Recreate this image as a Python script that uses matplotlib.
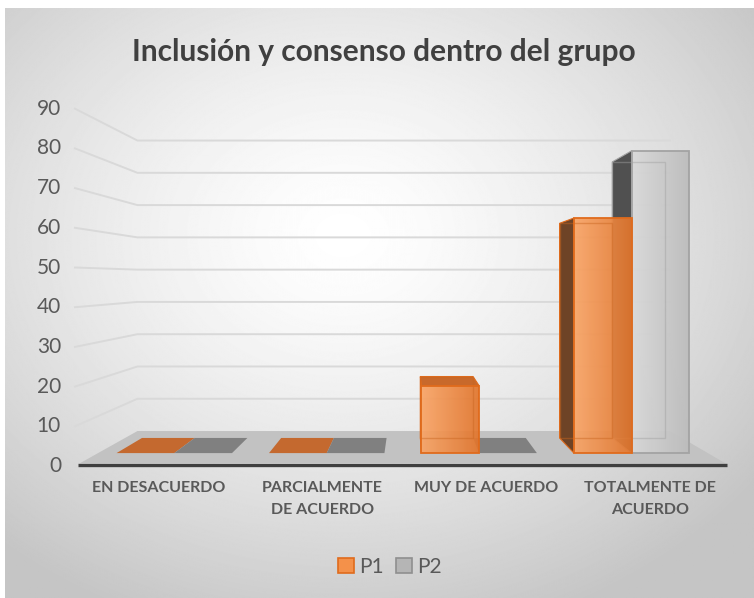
import numpy as np
import matplotlib.pyplot as plt
from matplotlib.patches import Polygon, Patch
from matplotlib.colors import LinearSegmentedColormap

# data
categories = ['EN DESACUERDO', 'PARCIALMENTE\nDE ACUERDO', 'MUY DE ACUERDO', 'TOTALMENTE DE\nACUERDO']
series_names = ['P1', 'P2']
p1 = [0, 0, 18.2, 63.6]
p2 = [0, 0, 0, 81.8]
yticks = list(range(0, 100, 10))

plt.rcParams['font.family'] = ['Lato', 'DejaVu Sans']

W, H = 754, 598
fig = plt.figure(figsize=(W / 100, H / 100), dpi=100)
ax = fig.add_axes([0, 0, 1, 1])
ax.set_xlim(0, W)
ax.set_ylim(H, 0)
ax.axis('off')

# simple perspective: vanishing point, front plane scale, depth factors
xv, yv = 409, 279
y0, ky = 466, 3.97
x_left, x_right = 75, 730
m_back, m_front = 0.813, 0.985
bar_mb, bar_mf = 0.85, 0.931
cw = (x_right - x_left) / len(categories)
bw = 62


def proj(X, v, m):
    Y = y0 - ky * v
    return xv + (X - xv) * m, yv + (Y - yv) * m


# background with soft radial shading
gx, gy = np.meshgrid(np.arange(W), np.arange(H))
r = np.sqrt(((gx - 340) / 520) ** 2 + ((gy - 230) / 420) ** 2)
shade = 1 - 0.23 * np.clip(r, 0, 1) ** 1.4
ax.imshow(shade, cmap='gray', vmin=0, vmax=1, extent=(5, W, H, 8),
          aspect='auto', zorder=0, interpolation='bilinear')

# gridlines on the side and back walls
for v in yticks[1:]:
    a = proj(x_left, v, 1.0)
    b = proj(x_left, v, m_back)
    c = proj(x_right, v, m_back)
    ax.plot([a[0], b[0], c[0]], [a[1], b[1], c[1]], color='#d9d9d9', lw=1.4, zorder=1)

# floor
floor = [proj(x_left, 0, m_back), proj(x_right, 0, m_back),
         proj(x_right, 0, m_front), proj(x_left, 0, m_front)]
ax.add_patch(Polygon(floor, closed=True, fc='#c2c2c2', ec='none', zorder=2))
fa, fb = proj(x_left, 0, 0.992), proj(x_right, 0, 0.992)
ax.plot([fa[0], fb[0]], [fa[1], fb[1]], color='#3f3f3f', lw=2.4, zorder=2,
        solid_capstyle='butt')

styles = {
    'P1': dict(light='#f9a465', dark='#e2752c', edge='#e06b1c', side='#6e4326',
               top='#c8692b', flat='#c4692f', back='#c9651f'),
    'P2': dict(light='#d8d8d8', dark='#bcbcbc', edge='#a3a3a3', side='#505050',
               top='#9c9c9c', flat='#808080', back='#a0a0a0'),
}


def draw_bar(X0, X1, v, st, z):
    if v == 0:
        pts = [proj(X0, 0, bar_mb), proj(X1, 0, bar_mb),
               proj(X1, 0, bar_mf), proj(X0, 0, bar_mf)]
        ax.add_patch(Polygon(pts, closed=True, fc=st['flat'], ec='none', zorder=z))
        return
    back = [proj(X0, 0, bar_mb), proj(X1, 0, bar_mb), proj(X1, v, bar_mb), proj(X0, v, bar_mb)]
    front = [proj(X0, 0, bar_mf), proj(X1, 0, bar_mf), proj(X1, v, bar_mf), proj(X0, v, bar_mf)]
    top = [back[3], back[2], front[2], front[3]]
    if X0 > xv:
        side = [back[0], front[0], front[3], back[3]]
        ax.add_patch(Polygon(side, closed=True, fc=st['side'], ec=st['edge'],
                             lw=0.8, zorder=z + 0.1))
    elif X1 < xv:
        side = [back[1], front[1], front[2], back[2]]
        ax.add_patch(Polygon(side, closed=True, fc=st['side'], ec=st['edge'],
                             lw=0.8, zorder=z + 0.1))
    if (y0 - ky * v) > yv:
        ax.add_patch(Polygon(top, closed=True, fc=st['top'], ec=st['edge'],
                             lw=0.8, zorder=z + 0.2))
    xs = [p[0] for p in front]
    ys = [p[1] for p in front]
    cmap = LinearSegmentedColormap.from_list('f', [st['light'], st['dark']])
    im = ax.imshow(np.linspace(0, 1, 64)[None, :], cmap=cmap, aspect='auto',
                   extent=(min(xs), max(xs), max(ys), min(ys)), alpha=0.92,
                   zorder=z + 0.3)
    face = Polygon(front, closed=True, fc='none', ec=st['edge'], lw=1.3, zorder=z + 0.5)
    ax.add_patch(face)
    im.set_clip_path(face)
    # back edges show through the translucent front
    ax.add_patch(Polygon(back, closed=True, fc='none', ec=st['back'], lw=1.0,
                         alpha=0.45, zorder=z + 0.4))


# farther bars from the view centre first
bars = []
for i in range(len(categories)):
    xc = x_left + (i + 0.5) * cw
    bars.append((xc - bw, xc, p1[i], 'P1'))
    bars.append((xc, xc + bw, p2[i], 'P2'))
bars.sort(key=lambda b: -abs((b[0] + b[1]) / 2 - xv))
for k, (X0, X1, v, name) in enumerate(bars):
    draw_bar(X0, X1, v, styles[name], 3 + k)

# axis labels
for v in yticks:
    ax.text(61, y0 - ky * v, str(v), ha='right', va='center', fontsize=15,
            color='#595959', zorder=20)
for i, cat in enumerate(categories):
    xc = x_left + (i + 0.5) * cw
    ax.text(xc + 2, 481, cat, ha='center', va='top', fontsize=11.5, fontweight='bold',
            color='#595959', linespacing=1.75, zorder=20)

ax.text(384, 52, 'Inclusión y consenso dentro del grupo', ha='center', va='center',
        fontsize=21.5, fontweight='bold', color='#404040', zorder=20)

handles = [Patch(fc='#f4914a', ec='#e06b1c', lw=1.2),
           Patch(fc='#b5b5b5', ec='#8f8f8f', lw=1.2)]
fig.legend(handles, series_names, loc='center', bbox_to_anchor=(390 / W, 1 - 567 / H),
           ncol=2, frameon=False, fontsize=15, handlelength=0.75, handleheight=0.75,
           handletextpad=0.25, columnspacing=0.6, labelcolor='#595959')

fig.savefig('out.png', dpi=100)
